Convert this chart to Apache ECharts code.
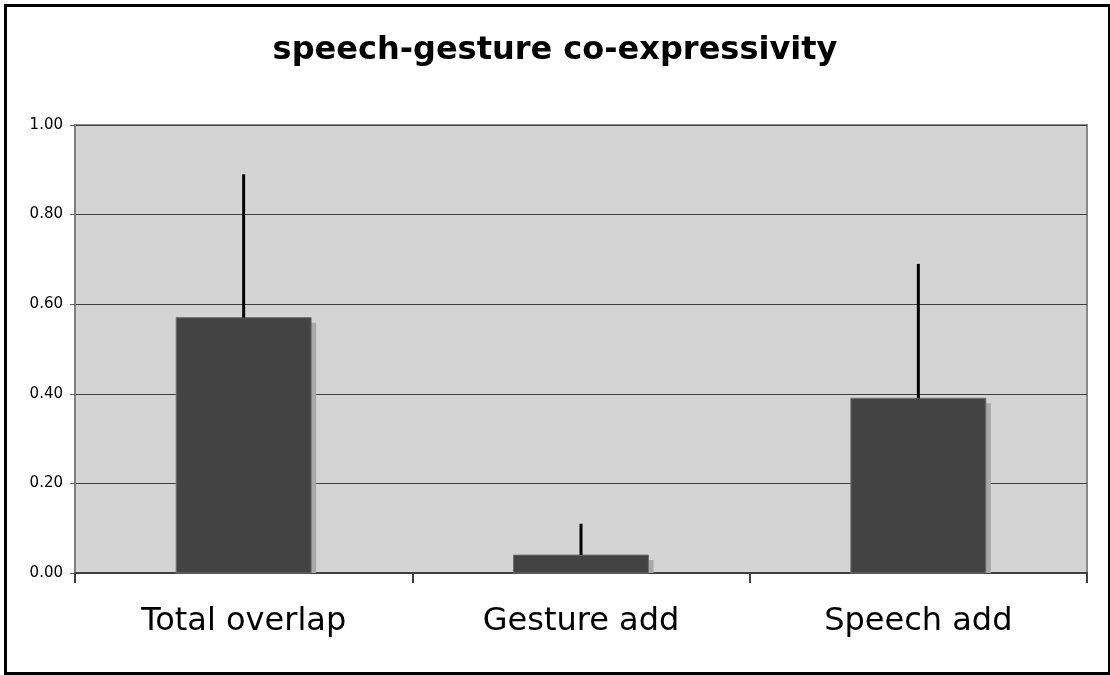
<!DOCTYPE html>
<html>
<head>
<meta charset="utf-8">
<script src="https://cdn.jsdelivr.net/npm/echarts@6/dist/echarts.min.js"></script>
<style>html,body{margin:0;padding:0;background:#fff;}#c{width:1110px;height:675px;}</style>
</head>
<body>
<div id="c"></div>
<script>
var categories = ['Total overlap', 'Gesture add', 'Speech add'];
var means = [0.57, 0.04, 0.39];
var errorPlus = [0.32, 0.07, 0.30];

var chart = echarts.init(document.getElementById('c'));
var barData = categories.map(function (c, i) { return [i, means[i]]; });
var errData = categories.map(function (c, i) { return [i, means[i], means[i] + errorPlus[i]]; });
chart.setOption({
  animation: false,
  backgroundColor: '#ffffff',
  title: {
    text: 'speech-gesture co-expressivity',
    left: 'center', top: 30,
    textStyle: { fontFamily: 'DejaVu Sans', fontWeight: 'bold', fontSize: 32, color: '#000' }
  },
  graphic: [{
    type: 'rect', left: 3, top: 3, z: 100,
    shape: { width: 1104, height: 668 },
    style: { fill: 'none', stroke: '#000', lineWidth: 3 }
  }],
  grid: { left: 75, right: 23, top: 125, bottom: 102, show: true, backgroundColor: '#d4d4d4', borderColor: '#8a8a8a', borderWidth: 2 },
  xAxis: {
    type: 'category', data: categories,
    axisLine: { show: true, lineStyle: { color: '#404040', width: 2 } },
    axisTick: { show: true, alignWithLabel: false, length: 10, lineStyle: { color: '#404040', width: 2 } },
    axisLabel: { fontFamily: 'DejaVu Sans', fontSize: 32, color: '#000', margin: 33 }
  },
  yAxis: {
    type: 'value', min: 0, max: 1, interval: 0.2,
    axisLine: { show: true, lineStyle: { color: '#808080', width: 2 } },
    axisTick: { show: true, length: 5, lineStyle: { color: '#606060' } },
    axisLabel: { fontFamily: 'DejaVu Sans', fontSize: 15, color: '#000', margin: 12,
      formatter: function (v) { return v.toFixed(2); } },
    splitLine: { show: true, lineStyle: { color: '#404040', width: 1 } }
  },
  series: [{
    type: 'custom', data: barData, z: 2,
    renderItem: function (params, api) {
      var i = api.value(0);
      var top = api.coord([i, api.value(1)]);
      var base = api.coord([i, 0]);
      var w = api.size([1, 0])[0] * 0.4;
      var x = top[0] - w / 2;
      var off = 5;
      return { type: 'group', children: [
        { type: 'rect', shape: { x: x + off, y: top[1] + off, width: w, height: Math.max(0, base[1] - top[1] - off) },
          style: { fill: '#a8a8a8' } },
        { type: 'rect', shape: { x: x, y: top[1], width: w, height: base[1] - top[1] },
          style: { fill: '#434343', stroke: '#6e6e6e', lineWidth: 1 } }
      ] };
    }
  }, {
    type: 'custom', data: errData, z: 3,
    renderItem: function (params, api) {
      var i = api.value(0);
      var p1 = api.coord([i, api.value(1)]);
      var p2 = api.coord([i, api.value(2)]);
      return { type: 'line', shape: { x1: p1[0], y1: p1[1], x2: p2[0], y2: p2[1] },
        style: { stroke: '#000', lineWidth: 3 } };
    }
  }]
});
</script>
</body>
</html>
